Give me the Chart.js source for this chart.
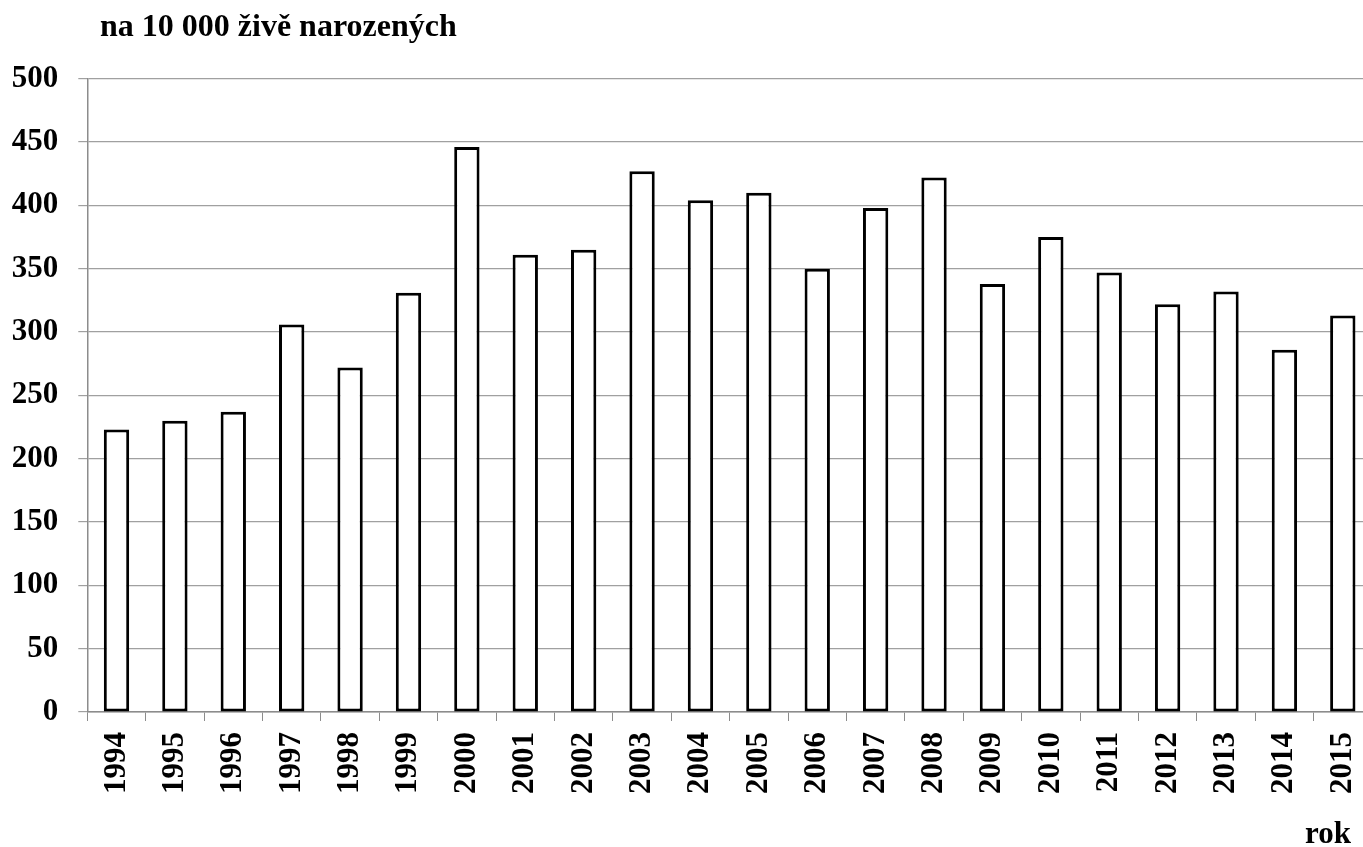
<!DOCTYPE html>
<html><head><meta charset="utf-8">
<script src="https://cdn.jsdelivr.net/npm/chart.js@4.4.1/dist/chart.umd.min.js"></script>
<style>
html,body{margin:0;padding:0;overflow:hidden;background:#fff;width:1363px;height:847px}
#wrap{position:absolute;left:0;top:0;width:1372px;height:847px}
</style>
</head><body>
<div id="wrap"><canvas id="c" width="1372" height="847"></canvas></div>
<script>
const categories = ['1994','1995','1996','1997','1998','1999','2000','2001','2002','2003','2004','2005','2006','2007','2008','2009','2010','2011','2012','2013','2014','2015'];
const values = [223, 230, 237, 306, 272, 331, 446, 361, 365, 427, 404, 410, 350, 398, 422, 338, 375, 347, 322, 332, 286, 313];
const yMin = 0;
const yMax = 500;
const yStep = 50;
const chartTitle = 'na 10 000 živě narozených';
const xAxisTitle = 'rok';

const FONT = '"Liberation Serif", "Times New Roman", serif';

const textPlugin = {
  id: 'texts',
  afterDraw(chart) {
    const ctx = chart.ctx;
    ctx.save();
    ctx.fillStyle = '#000';
    ctx.textBaseline = 'alphabetic';
    ctx.textAlign = 'left';
    ctx.font = 'bold 32px ' + FONT;
    ctx.fillText(chartTitle, 100, 36);
    ctx.textAlign = 'right';
    ctx.font = 'bold 31px ' + FONT;
    ctx.fillText(xAxisTitle, 1351, 843);
    ctx.restore();
  }
};

new Chart(document.getElementById('c'), {
  type: 'bar',
  data: {
    labels: categories,
    datasets: [{
      data: values,
      backgroundColor: '#ffffff',
      borderColor: '#000000',
      borderWidth: 3,
      borderSkipped: false,
      categoryPercentage: 1,
      barPercentage: 0.434
    }]
  },
  options: {
    responsive: false,
    devicePixelRatio: 1,
    animation: false,
    layout: { padding: { top: 78.7, left: 0, right: 0, bottom: 0 } },
    plugins: { legend: { display: false }, tooltip: { enabled: false }, title: { display: false } },
    scales: {
      x: {
        grid: { display: true, drawOnChartArea: false, drawTicks: true, tickLength: 9, color: '#8c8c8c', offset: true },
        border: { display: true, color: '#8c8c8c', width: 1.5 },
        ticks: {
          minRotation: 90, maxRotation: 90, autoSkip: false, padding: 11,
          color: '#000', font: { family: FONT, size: 31, weight: 'bold' }
        },
        afterFit(s) { s.height = 135; s.paddingLeft = 0; s.paddingRight = 0; }
      },
      y: {
        min: yMin, max: yMax,
        grid: { color: '#a0a0a0', lineWidth: 1.2, tickLength: 9, drawTicks: true },
        border: { display: true, color: '#8c8c8c', width: 1.5 },
        ticks: {
          stepSize: yStep, padding: 20, color: '#000',
          font: { family: FONT, size: 31, weight: 'bold' }
        },
        afterFit(s) { s.width = 87.3; s.paddingTop = 0; s.paddingBottom = 0; }
      }
    }
  },
  plugins: [textPlugin]
});
</script>
</body></html>
